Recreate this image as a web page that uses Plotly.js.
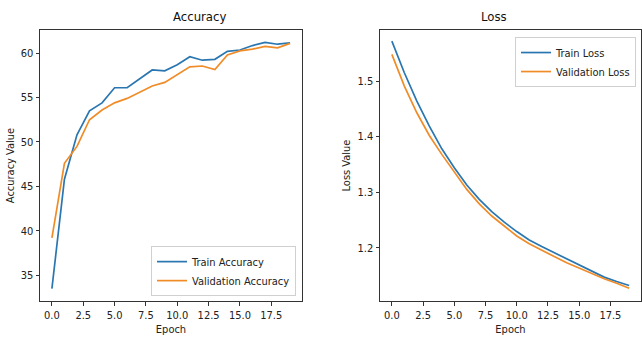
<!DOCTYPE html>
<html>
<head>
<meta charset="utf-8">
<script src="https://cdn.plot.ly/plotly-3.0.1.min.js"></script>
<style>html,body{margin:0;padding:0;background:#fff;}#chart{width:642px;height:340px;}</style>
</head>
<body>
<div id="chart"></div>
<script>
const epochs = [0,1,2,3,4,5,6,7,8,9,10,11,12,13,14,15,16,17,18,19];
const trainAccuracy = [33.5,45.8,50.8,53.5,54.4,56.1,56.1,57.1,58.1,58.0,58.7,59.6,59.2,59.3,60.2,60.35,60.85,61.2,61.0,61.15];
const valAccuracy = [39.2,47.6,49.5,52.5,53.6,54.4,54.9,55.6,56.3,56.7,57.6,58.45,58.55,58.15,59.8,60.25,60.45,60.75,60.6,61.1];
const trainLoss = [1.572,1.515,1.464,1.419,1.378,1.344,1.313,1.287,1.265,1.246,1.229,1.214,1.202,1.191,1.180,1.168,1.157,1.147,1.139,1.132];
const valLoss = [1.548,1.491,1.443,1.402,1.368,1.336,1.305,1.279,1.257,1.239,1.221,1.207,1.195,1.184,1.173,1.163,1.153,1.144,1.136,1.127];
const xTicks = [0,2.5,5,7.5,10,12.5,15,17.5];
const accTicks = [35,40,45,50,55,60];
const lossTicks = [1.2,1.3,1.4,1.5];

const BLUE = '#2a76b0', ORANGE = '#f08c28';
const FONT = 'DejaVu Sans Condensed, Liberation Sans Narrow, DejaVu Sans, sans-serif';

const traces = [
  {x: epochs, y: trainAccuracy, name: 'Train Accuracy', mode: 'lines', line: {color: BLUE, width: 1.7}, xaxis: 'x', yaxis: 'y', legend: 'legend'},
  {x: epochs, y: valAccuracy, name: 'Validation Accuracy', mode: 'lines', line: {color: ORANGE, width: 1.7}, xaxis: 'x', yaxis: 'y', legend: 'legend'},
  {x: epochs, y: trainLoss, name: 'Train Loss', mode: 'lines', line: {color: BLUE, width: 1.7}, xaxis: 'x2', yaxis: 'y2', legend: 'legend2'},
  {x: epochs, y: valLoss, name: 'Validation Loss', mode: 'lines', line: {color: ORANGE, width: 1.7}, xaxis: 'x2', yaxis: 'y2', legend: 'legend2'}
];

const axBase = {
  showline: true, mirror: true, linecolor: '#333', linewidth: 1,
  showgrid: false, zeroline: false, ticks: 'outside', ticklen: 3.5, tickwidth: 1, tickcolor: '#333',
  tickfont: {size: 11, color: '#222', family: FONT}
};

const layout = {
  width: 642, height: 340,
  margin: {l: 0, r: 0, t: 30, b: 39},
  paper_bgcolor: '#fff', plot_bgcolor: '#fff',
  font: {family: FONT, color: '#222'},
  showlegend: true,
  xaxis: Object.assign({}, axBase, {domain: [40/642, 302/642], range: [-0.95, 19.95], tickvals: xTicks, tickformat: '.1f', anchor: 'y',
    title: {text: 'Epoch', font: {size: 11, family: FONT, color: '#222'}, standoff: 4}}),
  yaxis: Object.assign({}, axBase, {domain: [0, 1], range: [32.1, 62.6], tickvals: accTicks, anchor: 'x',
    title: {text: 'Accuracy Value', font: {size: 11, family: FONT, color: '#222'}, standoff: 3}}),
  xaxis2: Object.assign({}, axBase, {domain: [380/642, 641/642], range: [-0.95, 19.95], tickvals: xTicks, tickformat: '.1f', anchor: 'y2',
    title: {text: 'Epoch', font: {size: 11, family: FONT, color: '#222'}, standoff: 4}}),
  yaxis2: Object.assign({}, axBase, {domain: [0, 1], range: [1.104, 1.592], tickvals: lossTicks, tickformat: '.1f', anchor: 'x2',
    title: {text: 'Loss Value', font: {size: 11, family: FONT, color: '#222'}, standoff: 4}}),
  legend: {x: 296/642, xanchor: 'right', y: 0.018, yanchor: 'bottom', xref: 'paper', yref: 'paper',
    bgcolor: 'rgba(255,255,255,0.9)', bordercolor: '#d0d0d0', borderwidth: 1,
    font: {size: 11, family: FONT, color: '#222'}, itemwidth: 30, tracegroupgap: 0},
  legend2: {x: 636/642, xanchor: 'right', y: 0.974, yanchor: 'top', xref: 'paper', yref: 'paper',
    bgcolor: 'rgba(255,255,255,0.9)', bordercolor: '#d0d0d0', borderwidth: 1,
    font: {size: 11, family: FONT, color: '#222'}, itemwidth: 30, tracegroupgap: 0},
  annotations: [
    {text: 'Accuracy', x: 171/642, y: 1 + 13/271, xref: 'paper', yref: 'paper', yanchor: 'middle', showarrow: false, font: {size: 13, family: FONT, color: '#111'}},
    {text: 'Loss', x: 509/642, y: 1 + 13/271, xref: 'paper', yref: 'paper', yanchor: 'middle', showarrow: false, font: {size: 13, family: FONT, color: '#111'}}
  ]
};

Plotly.newPlot('chart', traces, layout, {staticPlot: true, displayModeBar: false});
</script>
</body>
</html>
